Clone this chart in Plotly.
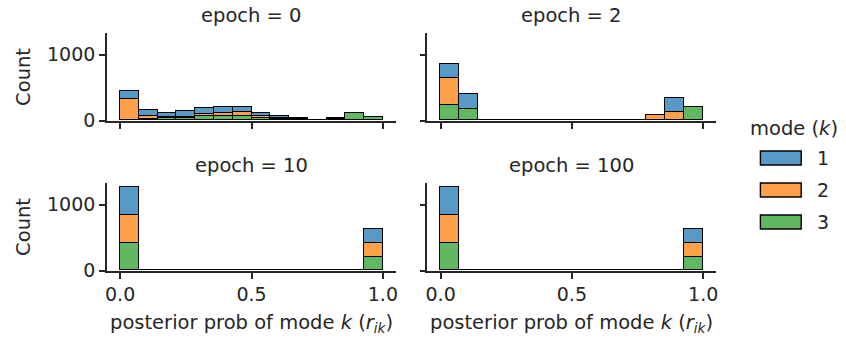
import numpy as np
import plotly.graph_objects as go

# ---------------- data ----------------
W, H = 846, 341
epochs = [0, 2, 10, 100]
modes = ["1", "2", "3"]
mode_colors = ["#5799c7", "#ff9f4a", "#61b861"]  # tab10 blue/orange/green at alpha .75
n_bins = 14  # equal-width bins spanning [0, 1]

# counts per bin, for each epoch and mode
e0_m1 = [120, 97, 71, 99, 92, 90, 81, 52, 25, 10, 2, 10, 0, 3]
e0_m2 = [325, 45, 10, 8, 25, 52, 61, 30, 15, 10, 3, 5, 0, 2]
e0_m3 = [5, 15, 35, 40, 70, 60, 60, 30, 20, 15, 5, 20, 106, 50]

e2_m1 = [223, 222, 0, 0, 0, 0, 0, 0, 0, 0, 0, 0, 212, 0]
e2_m2 = [404, 0, 0, 0, 0, 0, 0, 0, 0, 0, 0, 76, 126, 0]
e2_m3 = [232, 172, 0, 0, 0, 0, 0, 0, 0, 0, 0, 0, 0, 197]

e10_m1 = [420, 0, 0, 0, 0, 0, 0, 0, 0, 0, 0, 0, 0, 210]
e10_m2 = [420, 0, 0, 0, 0, 0, 0, 0, 0, 0, 0, 0, 0, 210]
e10_m3 = [420, 0, 0, 0, 0, 0, 0, 0, 0, 0, 0, 0, 0, 210]

e100_m1 = [420, 0, 0, 0, 0, 0, 0, 0, 0, 0, 0, 0, 0, 210]
e100_m2 = [420, 0, 0, 0, 0, 0, 0, 0, 0, 0, 0, 0, 0, 210]
e100_m3 = [420, 0, 0, 0, 0, 0, 0, 0, 0, 0, 0, 0, 0, 210]

counts = {
    0: [e0_m1, e0_m2, e0_m3],
    2: [e2_m1, e2_m2, e2_m3],
    10: [e10_m1, e10_m2, e10_m3],
    100: [e100_m1, e100_m2, e100_m3],
}

x_ticks = [0.0, 0.5, 1.0]
x_ticklabels = ["0.0", "0.5", "1.0"]
y_ticks = [0, 1000]
y_ticklabels = ["0", "1000"]

# ---------------- layout helpers ----------------
INK = "#262626"
FONT = "DejaVu Sans"


def fx(p):
    return p / W


def fy(p):
    return 1 - p / H


# panel pixel boxes: (left, right, top, bottom)
panels = [
    (105.5, 395.9, 33.3, 120.7),
    (427.5, 717.7, 33.3, 120.7),
    (105.5, 395.9, 183.3, 270.7),
    (427.5, 717.7, 183.3, 270.7),
]

edges = np.linspace(0, 1, n_bins + 1)
centers = (edges[:-1] + edges[1:]) / 2
width = edges[1] - edges[0]

ymax = max(sum(c[i] for c in counts[e]) for e in epochs for i in range(n_bins)) * 1.05

fig = go.Figure()

for pi, ep in enumerate(epochs):
    ax = "" if pi == 0 else str(pi + 1)
    # stack: mode 3 at bottom, then 2, then 1 on top
    for mi in [2, 1, 0]:
        fig.add_trace(go.Bar(
            x=centers, y=counts[ep][mi], width=width,
            marker=dict(color=mode_colors[mi], line=dict(color="black", width=1.4)),
            xaxis="x" + ax, yaxis="y" + ax, showlegend=False,
            name=modes[mi], hoverinfo="skip",
        ))

# the viewer maps a 352px-tall page onto the 341px picture
layout = dict(
    width=W, height=352, autosize=False, margin=dict(l=0, r=0, t=0, b=0, pad=0),
    paper_bgcolor="white", plot_bgcolor="white", barmode="stack", bargap=0,
    font=dict(family=FONT, color=INK, size=19),
    showlegend=False,
)

axis_common = dict(showline=True, linewidth=1.6, linecolor=INK, ticks="outside",
                   ticklen=6, tickwidth=1.6, tickcolor=INK, showgrid=False,
                   zeroline=False, tickfont=dict(family=FONT, size=19, color=INK))

for pi, (l, r, t, b) in enumerate(panels):
    ax = "" if pi == 0 else str(pi + 1)
    layout["xaxis" + ax] = dict(
        axis_common, domain=[fx(l), fx(r)], range=[-0.05, 1.05],
        tickvals=x_ticks, ticktext=x_ticklabels, anchor="y" + ax,
        showticklabels=(pi >= 2),
    )
    layout["yaxis" + ax] = dict(
        axis_common, domain=[fy(b), fy(t)], range=[0, ymax],
        tickvals=y_ticks, ticktext=y_ticklabels, anchor="x" + ax,
        showticklabels=(pi % 2 == 0),
    )

fig.update_layout(**layout)

ann = []
for pi, (l, r, t, b) in enumerate(panels):
    ann.append(dict(text=f"epoch = {epochs[pi]}", x=fx((l + r) / 2), y=fy(t - 18),
                    xref="paper", yref="paper", showarrow=False,
                    xanchor="center", yanchor="middle", font=dict(size=19.5)))
    if pi % 2 == 0:
        ann.append(dict(text="Count", x=fx(21), y=fy((t + b) / 2), textangle=-90,
                        xref="paper", yref="paper", showarrow=False,
                        xanchor="center", yanchor="middle", font=dict(size=19.5)))
    if pi >= 2:
        ann.append(dict(text="posterior prob of mode <i>k</i> (<i>r</i><sub><i>ik</i></sub>)",
                        x=fx((l + r) / 2), y=fy(323), xref="paper", yref="paper",
                        showarrow=False, xanchor="center", yanchor="middle",
                        font=dict(size=19.5)))

# legend (drawn manually to match the large patch handles)
ann.append(dict(text="mode (<i>k</i>)", x=fx(796), y=fy(128), xref="paper", yref="paper",
                showarrow=False, xanchor="center", yanchor="middle", font=dict(size=19.5)))
shapes = []
for mi, m in enumerate(modes):
    yc = 158 + 32 * mi
    shapes.append(dict(type="rect", xref="paper", yref="paper",
                       x0=fx(762), x1=fx(803), y0=fy(yc - 7), y1=fy(yc + 7),
                       fillcolor=mode_colors[mi], line=dict(color="black", width=1.4)))
    ann.append(dict(text=m, x=fx(817), y=fy(yc), xref="paper", yref="paper",
                    showarrow=False, xanchor="left", yanchor="middle", font=dict(size=19)))

fig.update_layout(annotations=ann, shapes=shapes)
fig.write_html("out.html")
